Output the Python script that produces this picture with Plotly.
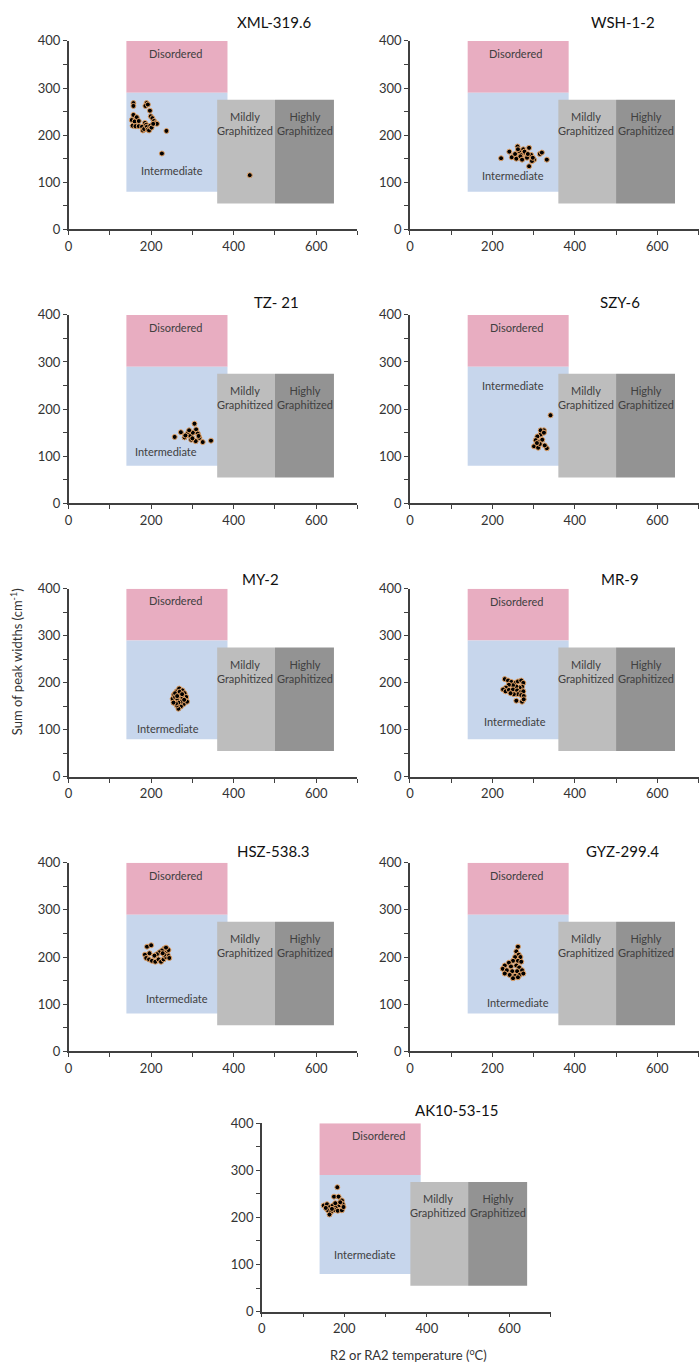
import plotly.graph_objects as go

W, H = 699, 1371

titles = ["XML-319.6", "WSH-1-2", "TZ- 21", "SZY-6", "MY-2", "MR-9", "HSZ-538.3", "GYZ-299.4", "AK10-53-15"]

x_xml = [157,157,189,186,192,197,157,165,153,160,170,199,203,207,211,214,155,162,170,178,180,183,185,188,190,192,195,198,201,205,237,226,439]
y_xml = [268,262,268,262,265,252,243,238,232,229,230,240,236,230,226,224,220,219,219,218,210,213,226,222,218,212,210,220,216,224,209,161,115]

x_wsh = [221,241,247,261,255,265,270,275,280,285,289,289,301,315,320,332,258,268,278,284,294,296,262,272,286,298]
y_wsh = [151,165,153,176,160,166,158,170,162,155,173,134,148,160,163,148,150,155,165,152,158,145,170,148,160,152]

x_tz = [257,272,281,289,295,301,305,309,313,317,308,297,325,345,283,315,300,292]
y_tz = [141,151,140,149,143,150,169,157,148,139,132,135,130,133,144,143,138,155]

x_szy = [341,325,317,309,305,313,301,311,332,327,321,317,325,315,308]
y_szy = [187,155,146,142,134,130,121,118,117,123,135,155,150,126,128]

x_my = [255,262,268,276,281,285,283,279,272,266,262,256,252,258,264,270,276,272,266,258,287,260,269,280,254,263,275]
y_my = [175,182,188,184,178,170,162,155,150,145,152,160,166,170,165,172,168,160,158,178,160,156,181,164,158,172,176]

x_mr = [230,238,246,256,262,270,275,272,266,258,250,240,233,226,232,240,250,260,268,275,262,252,244,270,276,258,272,276]
y_mr = [208,205,202,200,203,205,200,192,190,192,195,196,190,186,182,185,186,184,180,182,176,176,178,174,172,162,160,165]

x_hsz = [190,200,185,188,195,202,210,218,224,230,236,240,238,232,226,220,214,208,232,242,228,236,196,244]
y_hsz = [222,225,205,198,195,192,190,195,190,195,200,205,212,218,214,210,206,203,205,215,208,220,208,198]

x_gyz = [262,258,264,255,268,250,262,240,270,230,245,258,265,225,235,248,260,272,230,242,255,266,250,262,275]
y_gyz = [222,212,205,200,200,192,192,188,190,182,180,182,178,175,172,170,170,172,165,162,160,162,155,157,165]

x_ak = [183,175,186,194,150,158,165,172,180,188,196,160,168,176,184,194,198,164,170,155,190,178]
y_ak = [264,244,244,236,225,228,222,225,222,226,228,215,212,216,214,215,222,206,218,220,232,230]

xs = [x_xml, x_wsh, x_tz, x_szy, x_my, x_mr, x_hsz, x_gyz, x_ak]
ys = [y_xml, y_wsh, y_tz, y_szy, y_my, y_mr, y_hsz, y_gyz, y_ak]

zone_names = ["Disordered", "Intermediate", "Mildly<br>Graphitized", "Highly<br>Graphitized"]
zone_x0 = [140, 140, 360, 500]
zone_x1 = [385, 385, 500, 643]
zone_y0 = [290, 80, 55, 55]
zone_y1 = [400, 290, 275, 275]
zone_colors = ["#E8ADC1", "#C7D6EC", "#BDBDBD", "#939393"]

dis_pos = [(258,373),(257,373),(258,373),(258,373),(259,376),(258,373),(258,373),(258,373),(283,374)]
int_pos = [(251,124),(249,115),(237,109),(249,250),(241,103),(255,117),(262,112),(262,104),(251,122)]

col_left = {0: (65, 355.5), 1: (408.3, 698.5), 2: (259.3, 549.8)}
rows = [(33.3, 224), (310.5, 501.2), (587.7, 778), (864.9, 1055.6), (1128.3, 1319)]
panel_pos = [(0,0),(1,0),(0,1),(1,1),(0,2),(1,2),(0,3),(1,3),(2,4)]
title_px = [(272,14),(623,14),(274,297),(620,297),(258,578),(620,578),(271,853),(622,853),(455,1115)]

fig = go.Figure()
layout = dict(width=W, height=H, margin=dict(l=0, r=0, t=0, b=0, pad=0), autosize=False,
              paper_bgcolor="white", plot_bgcolor="rgba(0,0,0,0)", showlegend=False,
              font=dict(family="Lato", color="#404040"))
shapes = []
annotations = []

for i in range(9):
    c, r = panel_pos[i]
    xa = "x" if i == 0 else f"x{i+1}"
    ya = "y" if i == 0 else f"y{i+1}"
    xkey = "xaxis" if i == 0 else f"xaxis{i+1}"
    ykey = "yaxis" if i == 0 else f"yaxis{i+1}"
    x0p, x1p = col_left[c]
    t, b = rows[r]
    layout[xkey] = dict(domain=[x0p / W, x1p / W], range=[0, 700], anchor=ya,
                        showgrid=False, zeroline=False, showline=True, linecolor="#404040", linewidth=1.5,
                        tickvals=[0, 200, 400, 600], ticks="outside", ticklen=4, tickcolor="#404040",
                        minor=dict(tickvals=[100, 300, 500, 700], ticks="outside", ticklen=4, tickcolor="#404040"),
                        tickfont=dict(family="Lato", size=13, color="#333333"), fixedrange=True)
    layout[ykey] = dict(domain=[1 - b / H, 1 - t / H], range=[0, 400], anchor=xa,
                        showgrid=False, zeroline=False, showline=True, linecolor="#404040", linewidth=1.5,
                        tickvals=[0, 100, 200, 300, 400], ticks="outside", ticklen=4, tickcolor="#404040",
                        minor=dict(tickvals=[50, 150, 250, 350], ticks="outside", ticklen=4, tickcolor="#404040"),
                        tickfont=dict(family="Lato", size=13, color="#333333"), fixedrange=True)
    for k in range(4):
        shapes.append(dict(type="rect", xref=xa, yref=ya, x0=zone_x0[k], x1=zone_x1[k],
                           y0=zone_y0[k], y1=zone_y1[k], fillcolor=zone_colors[k],
                           line=dict(width=0), layer="below"))
    lab_font = dict(family="Lato", size=11, color="#404040")
    annotations.append(dict(x=dis_pos[i][0], y=dis_pos[i][1], xref=xa, yref=ya, text=zone_names[0],
                            showarrow=False, xanchor="center", yanchor="middle", font=lab_font))
    annotations.append(dict(x=int_pos[i][0], y=int_pos[i][1], xref=xa, yref=ya, text=zone_names[1],
                            showarrow=False, xanchor="center", yanchor="middle", font=lab_font))
    annotations.append(dict(x=428, y=225, xref=xa, yref=ya, text=zone_names[2],
                            showarrow=False, xanchor="center", yanchor="middle", font=lab_font))
    annotations.append(dict(x=572, y=225, xref=xa, yref=ya, text=zone_names[3],
                            showarrow=False, xanchor="center", yanchor="middle", font=lab_font))
    tx, ty = title_px[i]
    annotations.append(dict(x=tx / W, y=1 - ty / H, xref="paper", yref="paper", text=titles[i],
                            showarrow=False, xanchor="center", yanchor="middle",
                            font=dict(family="Lato", size=15, color="#111111")))
    fig.add_trace(go.Scatter(x=xs[i], y=ys[i], mode="markers", xaxis=xa, yaxis=ya,
                             marker=dict(size=5, color="black", line=dict(color="#E4A468", width=1)),
                             hoverinfo="skip"))

annotations.append(dict(x=12 / W, y=1 - 661 / H, xref="paper", yref="paper",
                        text="Sum of peak widths (cm<sup>-1</sup>)", textangle=-90, showarrow=False,
                        xanchor="center", yanchor="middle",
                        font=dict(family="Lato", size=13, color="#333333")))
annotations.append(dict(x=407 / W, y=1 - 1362 / H, xref="paper", yref="paper",
                        text="R2 or RA2 temperature (<sup>o</sup>C)", showarrow=False,
                        xanchor="center", yanchor="middle",
                        font=dict(family="Lato", size=13, color="#333333")))

layout["shapes"] = shapes
layout["annotations"] = annotations
fig.update_layout(**layout)
post = ("document.documentElement.style.margin='0';document.documentElement.style.overflow='hidden';"
        "document.body.style.margin='0';document.body.style.padding='0';document.body.style.overflow='hidden';"
        "var d=document.getElementsByClassName('plotly-graph-div')[0];"
        "d.style.position='fixed';d.style.left='0px';d.style.top='0px';")
fig.write_html("out.html", config={"responsive": False, "displayModeBar": False}, post_script=post)
